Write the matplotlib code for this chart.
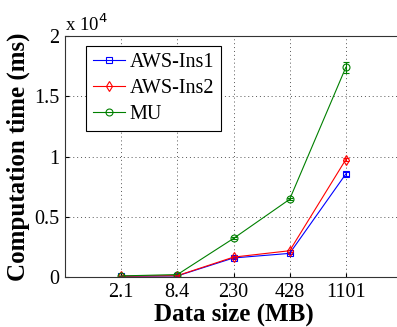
import numpy as np
import matplotlib
matplotlib.use("Agg")
import matplotlib.pyplot as plt
from matplotlib.lines import Line2D

sizes = ["2.1", "8.4", "230", "428", "1101"]
aws1 = [60, 90, 1580, 1960, 8550]
aws2 = [70, 110, 1650, 2180, 9750]
mu = [90, 200, 3200, 6450, 17400]
aws1_err = [20, 20, 60, 80, 150]
aws2_err = [20, 20, 60, 80, 150]
mu_err = [20, 20, 80, 100, 450]

matplotlib.rcParams.update({'font.family': 'Liberation Serif', 'font.size': 14})

fig = plt.figure(figsize=(3.97, 3.27), dpi=100)
ax = fig.add_axes([65 / 397, 50 / 327, 337 / 397, 241 / 327])

x = np.arange(1, len(sizes) + 1)
series = [("AWS-Ins1", aws1, aws1_err, "#0000ff", "s"),
          ("AWS-Ins2", aws2, aws2_err, "#ff0000", "d"),
          ("MU", mu, mu_err, "#008000", "o")]
handles = []
for name, vals, err, c, m in series:
    ax.errorbar(x, vals, yerr=err, color=c, marker=m, mfc="none",
                ms=5, lw=0.8, mew=0.8, capsize=2, elinewidth=0.8)
    handles.append(Line2D([], [], color=c, marker=m, mfc="none", ms=5,
                          lw=0.8, mew=0.8, label=name))

ax.set_xlim(0, 6)
ax.set_ylim(0, 20000)
ax.set_xticks(x)
ax.set_xticklabels(sizes)
ax.set_yticks([0, 5000, 10000, 15000, 20000])
ax.set_yticklabels(["0", "0.5", "1", "1.5", "2"])
ax.tick_params(direction="in", length=3, width=0.8, pad=4, labelsize=14.5)
ax.grid(True, linestyle=(0, (1, 3)), color="#555555", linewidth=0.7)
for s in ax.spines.values():
    s.set_linewidth(0.8)
    s.set_color("#333333")

ax.text(0, 1.005, "x 10$^4$", transform=ax.transAxes, fontsize=13.5,
        ha="left", va="bottom")

ax.set_xlabel("Data size (MB)", fontsize=18, fontweight="bold", labelpad=1)
ax.set_ylabel("Computation time (ms)", fontsize=18, fontweight="bold", labelpad=3)

leg = ax.legend(handles=handles, loc="upper left",
                bbox_to_anchor=(21 / 337, 0.96), fontsize=14.5,
                fancybox=False, edgecolor="black", framealpha=1,
                handlelength=1.6, borderpad=0.35, labelspacing=0.35,
                handletextpad=0.2, borderaxespad=0)
leg.get_frame().set_linewidth(0.8)

fig.savefig("out.png", dpi=100)
